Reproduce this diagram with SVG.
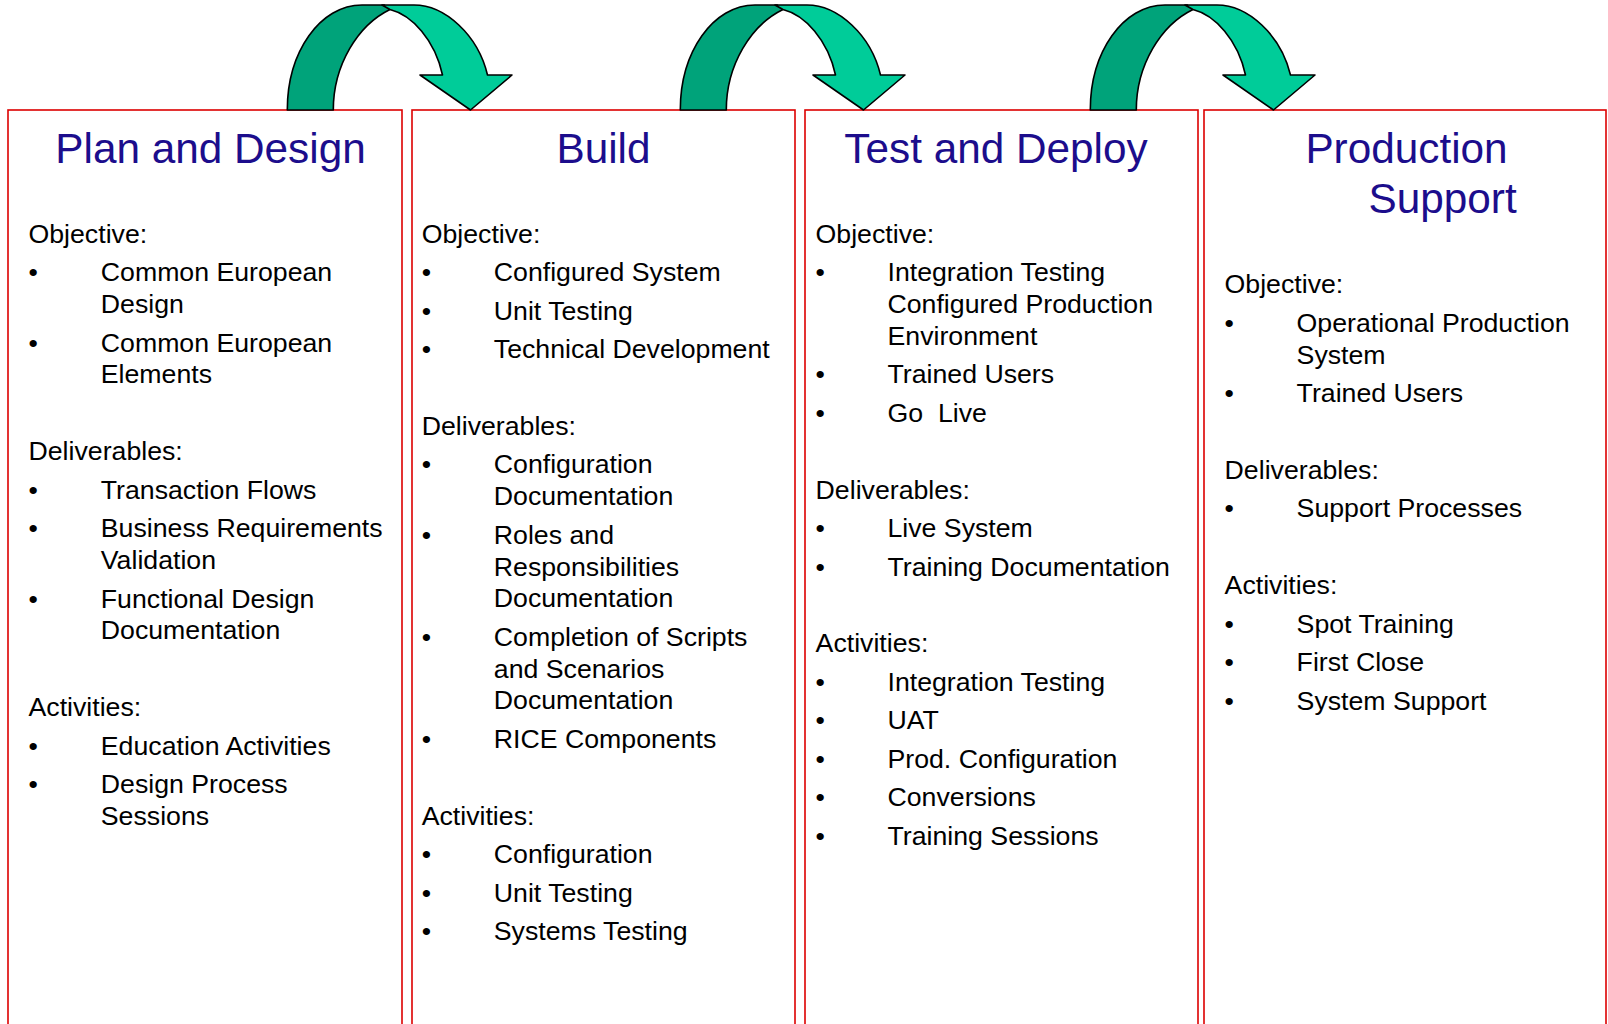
<svg xmlns="http://www.w3.org/2000/svg" width="1608" height="1024" viewBox="0 0 1608 1024">
<style>
.panel{fill:#ffffff;stroke:#dd0000;stroke-width:1.6}
.ttl{font-family:"Liberation Sans",Arial,sans-serif;font-size:42.3px;fill:#1c0d8c;text-anchor:middle}
.hd{font-family:"Liberation Sans",Arial,sans-serif;font-size:26.7px;fill:#000000}
.it{font-family:"Liberation Sans",Arial,sans-serif;font-size:26.7px;fill:#000000}
.dark{fill:#00a37a;stroke:#000000;stroke-width:1.6;stroke-linejoin:round}
.light{fill:#00cc99;stroke:#000000;stroke-width:1.6;stroke-linejoin:round}
</style>
<defs>
<g id="uturn">
<path class="dark" d="M287.3,110 C287.3,52 320,5 362,5 L384,5 L390,9.5 C358,25 333.3,65 333.3,110 Z"/>
<path class="light" d="M382,5 L414,5 C445,5 478,35 487.5,75 L512,75 L470.5,110 L420,75 L442.5,75 C435,40 412,15 390,9.5 Z"/>
</g>
</defs>
<rect width="1608" height="1024" fill="#ffffff"/>

<g id="panel-plan">
<rect class="panel" x="8" y="110" width="394" height="1000"/>
<text class="ttl" x="210.5" y="162.5">Plan and Design</text>
<text class="hd" x="28.5" y="242.7">Objective:</text>
<text class="it" x="28.5" y="281.2">•</text><text class="it" x="100.8" y="281.2">Common European</text>
<text class="it" x="100.8" y="313">Design</text>
<text class="it" x="28.5" y="351.6">•</text><text class="it" x="100.8" y="351.6">Common European</text>
<text class="it" x="100.8" y="383.4">Elements</text>
<text class="hd" x="28.5" y="460.3">Deliverables:</text>
<text class="it" x="28.5" y="498.8">•</text><text class="it" x="100.8" y="498.8">Transaction Flows</text>
<text class="it" x="28.5" y="537.2">•</text><text class="it" x="100.8" y="537.2">Business Requirements</text>
<text class="it" x="100.8" y="569">Validation</text>
<text class="it" x="28.5" y="607.5">•</text><text class="it" x="100.8" y="607.5">Functional Design</text>
<text class="it" x="100.8" y="639.3">Documentation</text>
<text class="hd" x="28.5" y="716.2">Activities:</text>
<text class="it" x="28.5" y="754.6">•</text><text class="it" x="100.8" y="754.6">Education Activities</text>
<text class="it" x="28.5" y="793.1">•</text><text class="it" x="100.8" y="793.1">Design Process</text>
<text class="it" x="100.8" y="824.9">Sessions</text>
</g>

<g id="panel-build">
<rect class="panel" x="412" y="110" width="383" height="1000"/>
<text class="ttl" x="603.5" y="162.5">Build</text>
<text class="hd" x="421.7" y="242.7">Objective:</text>
<text class="it" x="421.7" y="281.2">•</text><text class="it" x="493.8" y="281.2">Configured System</text>
<text class="it" x="421.7" y="319.6">•</text><text class="it" x="493.8" y="319.6">Unit Testing</text>
<text class="it" x="421.7" y="358.1">•</text><text class="it" x="493.8" y="358.1">Technical Development</text>
<text class="hd" x="421.7" y="435">Deliverables:</text>
<text class="it" x="421.7" y="473.4">•</text><text class="it" x="493.8" y="473.4">Configuration</text>
<text class="it" x="493.8" y="505.2">Documentation</text>
<text class="it" x="421.7" y="543.7">•</text><text class="it" x="493.8" y="543.7">Roles and</text>
<text class="it" x="493.8" y="575.5">Responsibilities</text>
<text class="it" x="493.8" y="607.3">Documentation</text>
<text class="it" x="421.7" y="645.7">•</text><text class="it" x="493.8" y="645.7">Completion of Scripts</text>
<text class="it" x="493.8" y="677.5">and Scenarios</text>
<text class="it" x="493.8" y="709.3">Documentation</text>
<text class="it" x="421.7" y="747.8">•</text><text class="it" x="493.8" y="747.8">RICE Components</text>
<text class="hd" x="421.7" y="824.7">Activities:</text>
<text class="it" x="421.7" y="863.1">•</text><text class="it" x="493.8" y="863.1">Configuration</text>
<text class="it" x="421.7" y="901.6">•</text><text class="it" x="493.8" y="901.6">Unit Testing</text>
<text class="it" x="421.7" y="940">•</text><text class="it" x="493.8" y="940">Systems Testing</text>
</g>

<g id="panel-test">
<rect class="panel" x="805" y="110" width="393" height="1000"/>
<text class="ttl" x="996" y="162.5">Test and Deploy</text>
<text class="hd" x="815.6" y="242.7">Objective:</text>
<text class="it" x="815.6" y="281.2">•</text><text class="it" x="887.5" y="281.2">Integration Testing</text>
<text class="it" x="887.5" y="313">Configured Production</text>
<text class="it" x="887.5" y="344.8">Environment</text>
<text class="it" x="815.6" y="383.2">•</text><text class="it" x="887.5" y="383.2">Trained Users</text>
<text class="it" x="815.6" y="421.7">•</text><text class="it" x="887.5" y="421.7" xml:space="preserve">Go  Live</text>
<text class="hd" x="815.6" y="498.6">Deliverables:</text>
<text class="it" x="815.6" y="537">•</text><text class="it" x="887.5" y="537">Live System</text>
<text class="it" x="815.6" y="575.5">•</text><text class="it" x="887.5" y="575.5">Training Documentation</text>
<text class="hd" x="815.6" y="652.4">Activities:</text>
<text class="it" x="815.6" y="690.8">•</text><text class="it" x="887.5" y="690.8">Integration Testing</text>
<text class="it" x="815.6" y="729.3">•</text><text class="it" x="887.5" y="729.3">UAT</text>
<text class="it" x="815.6" y="767.7">•</text><text class="it" x="887.5" y="767.7">Prod. Configuration</text>
<text class="it" x="815.6" y="806.2">•</text><text class="it" x="887.5" y="806.2">Conversions</text>
<text class="it" x="815.6" y="844.6">•</text><text class="it" x="887.5" y="844.6">Training Sessions</text>
</g>

<g id="panel-support">
<rect class="panel" x="1204" y="110" width="402" height="1000"/>
<text class="ttl" x="1406.5" y="162.5">Production</text>
<text class="ttl" x="1368.5" y="213" style="text-anchor:start">Support</text>
<text class="hd" x="1224.6" y="293.2">Objective:</text>
<text class="it" x="1224.6" y="331.7">•</text><text class="it" x="1296.6" y="331.7">Operational Production</text>
<text class="it" x="1296.6" y="363.5">System</text>
<text class="it" x="1224.6" y="401.9">•</text><text class="it" x="1296.6" y="401.9">Trained Users</text>
<text class="hd" x="1224.6" y="478.8">Deliverables:</text>
<text class="it" x="1224.6" y="517.3">•</text><text class="it" x="1296.6" y="517.3">Support Processes</text>
<text class="hd" x="1224.6" y="594.2">Activities:</text>
<text class="it" x="1224.6" y="632.6">•</text><text class="it" x="1296.6" y="632.6">Spot Training</text>
<text class="it" x="1224.6" y="671.1">•</text><text class="it" x="1296.6" y="671.1">First Close</text>
<text class="it" x="1224.6" y="709.5">•</text><text class="it" x="1296.6" y="709.5">System Support</text>
</g>

<g id="connectors">
<use href="#uturn"/>
<use href="#uturn" transform="translate(393,0)"/>
<use href="#uturn" transform="translate(803,0)"/>
</g>
</svg>
